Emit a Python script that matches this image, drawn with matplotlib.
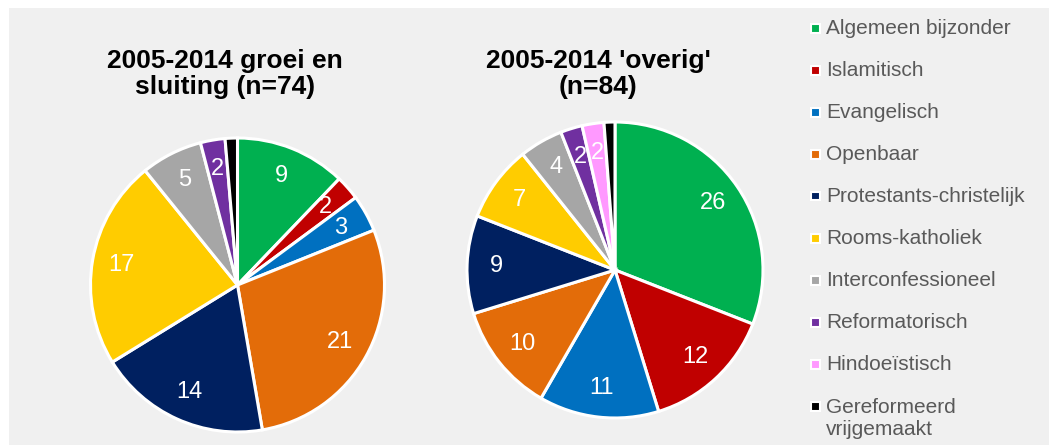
import matplotlib
matplotlib.use("Agg")
import matplotlib.pyplot as plt
from matplotlib.patches import Rectangle

plt.rcParams['font.family'] = ['Liberation Sans', 'DejaVu Sans']

categories = ["Algemeen bijzonder", "Islamitisch", "Evangelisch", "Openbaar",
              "Protestants-christelijk", "Rooms-katholiek", "Interconfessioneel",
              "Reformatorisch", "Hindoeïstisch", "Gereformeerd\nvrijgemaakt"]
colors = ["#00B050", "#C00000", "#0070C0", "#E36C09", "#002060",
          "#FFCC00", "#A6A6A6", "#7030A0", "#FF99FF", "#000000"]

groei_values = [9, 2, 3, 21, 14, 17, 5, 2, 0, 1]
overig_values = [26, 12, 11, 10, 9, 7, 4, 2, 2, 1]

titles = ["2005-2014 groei en\nsluiting (n=74)", "2005-2014 'overig'\n(n=84)"]

W, H = 1049, 445
fig = plt.figure(figsize=(W / 100, H / 100), dpi=100)
fig.patch.set_facecolor("white")
fig.add_artist(Rectangle((9 / W, 0), 1 - 9 / W, (H - 8) / H,
                         transform=fig.transFigure, facecolor="#F0F0F0",
                         edgecolor="none", zorder=0))


def add_pie(cx, cy, r, values, title, tx, ty):
    ax = fig.add_axes([(cx - r) / W, (H - cy - r) / H, 2 * r / W, 2 * r / H])
    ax.set_facecolor("none")
    idx = [i for i, v in enumerate(values) if v > 0]
    vals = [values[i] for i in idx]
    cols = [colors[i] for i in idx]
    wedges, texts = ax.pie(vals, colors=cols, startangle=90, counterclock=False,
                           labels=[str(v) if v > 1 else "" for v in vals],
                           labeldistance=0.8,
                           wedgeprops=dict(edgecolor="white", linewidth=2.2),
                           textprops=dict(color="white", fontsize=17))
    for t in texts:
        t.set_ha("center")
        t.set_va("center")
    for w in wedges:
        w.set_clip_on(False)
    ax.set_xlim(-1, 1)
    ax.set_ylim(-1, 1)
    ax.set_aspect("auto")
    ax.axis("off")
    fig.text(tx / W, 1 - ty / H, title, ha="center", va="center",
             fontsize=19, fontweight="bold", color="black", linespacing=1.15)


add_pie(237.5, 285, 147, groei_values, titles[0], 225, 74)
add_pie(615, 270, 148, overig_values, titles[1], 598, 74)

# legend
for i, (lab, col) in enumerate(zip(categories, colors)):
    y = 28 + 42 * i
    fig.add_artist(Rectangle((811 / W, 1 - (y + 4.5) / H), 9 / W, 9 / H,
                             transform=fig.transFigure, facecolor=col,
                             edgecolor="white", linewidth=1.5))
    if "\n" in lab:
        fig.text(826 / W, 1 - (y + 12.5) / H, lab, ha="left", va="center",
                 fontsize=15, color="#595959", linespacing=1.15)
    else:
        fig.text(826 / W, 1 - y / H, lab, ha="left", va="center",
                 fontsize=15, color="#595959")

fig.savefig("out.png", dpi=100)
